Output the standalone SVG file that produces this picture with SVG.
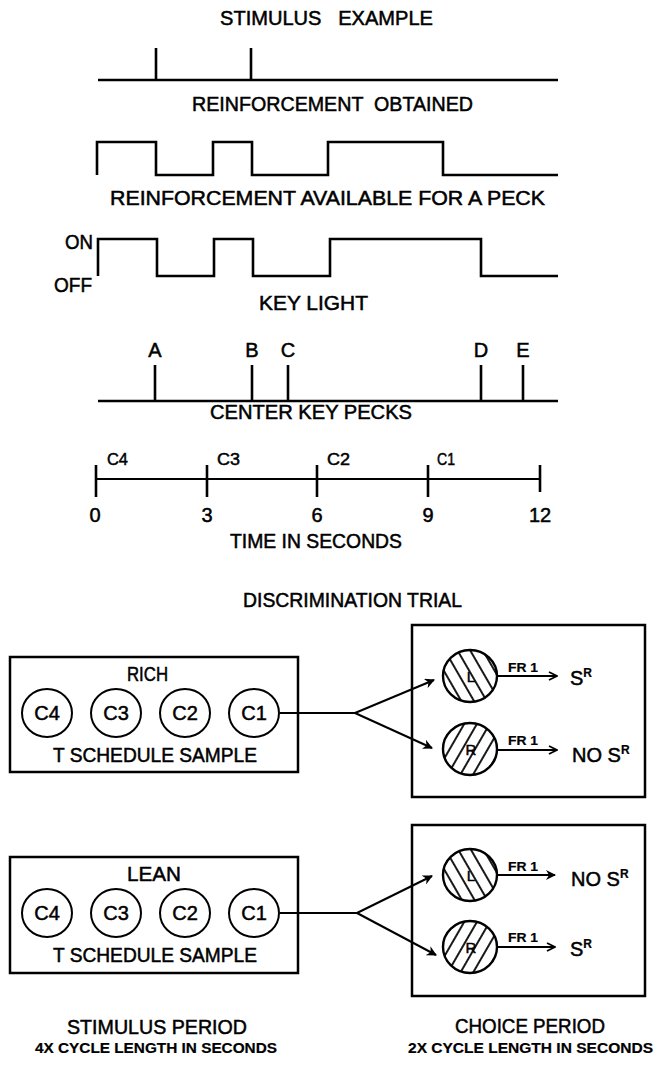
<svg xmlns="http://www.w3.org/2000/svg" width="655" height="1068" viewBox="0 0 655 1068">
<style>
text{font-family:"Liberation Sans",Arial,sans-serif;font-size:20px;fill:#000;stroke:#000;stroke-width:0.5}
.sm{font-size:14px;font-weight:bold;stroke-width:0.2}
.fr{font-size:13px;font-weight:bold;stroke-width:0.2}
.sup{font-size:12px;font-weight:bold;stroke-width:0.2}
.c{text-anchor:middle}
.sig{fill:none;stroke:#000;stroke-width:2.6;stroke-linejoin:miter}
.ax{fill:none;stroke:#000;stroke-width:2}
.box{fill:none;stroke:#000;stroke-width:2.5}
.ring{fill:#fff;stroke:#000;stroke-width:2}
.ln{fill:none;stroke:#000;stroke-width:2}
</style>
<defs>
<pattern id="hb" width="11" height="11" patternUnits="userSpaceOnUse" patternTransform="rotate(-30)">
<rect width="11" height="11" fill="#fff"/><line x1="5" y1="0" x2="5" y2="11" stroke="#000" stroke-width="1.8"/>
</pattern>
<pattern id="hf" width="11" height="11" patternUnits="userSpaceOnUse" patternTransform="rotate(30)">
<rect width="11" height="11" fill="#fff"/><line x1="5" y1="0" x2="5" y2="11" stroke="#000" stroke-width="1.8"/>
</pattern>
<marker id="open" viewBox="0 0 10 10" refX="9" refY="5" markerWidth="10" markerHeight="10" markerUnits="userSpaceOnUse" orient="auto">
<path d="M1,1 L9,5 L1,9" fill="none" stroke="#000" stroke-width="1.8"/>
</marker>
<marker id="tri" viewBox="0 0 10 10" refX="9" refY="5" markerWidth="10" markerHeight="10" markerUnits="userSpaceOnUse" orient="auto">
<path d="M0,0 L10,5 L0,10 L3,5 Z" fill="#000"/>
</marker>
</defs>

<g id="timing">
<text x="220" y="25" textLength="213" lengthAdjust="spacingAndGlyphs" xml:space="preserve">STIMULUS   EXAMPLE</text>
<path class="sig" d="M98,80 H558 M156,80 V48 M251,80 V48"/>
<text x="192" y="111" textLength="281" lengthAdjust="spacingAndGlyphs" xml:space="preserve">REINFORCEMENT  OBTAINED</text>
<path class="sig" d="M97,175 V142 H156 V175 H213 V142 H252 V175 H328 V142 H443 V175 H558"/>
<text x="110" y="205" textLength="435" lengthAdjust="spacingAndGlyphs">REINFORCEMENT AVAILABLE FOR A PECK</text>
<text x="65" y="249" textLength="28" lengthAdjust="spacingAndGlyphs">ON</text>
<text x="54" y="292" textLength="38" lengthAdjust="spacingAndGlyphs">OFF</text>
<path class="sig" d="M98,276 V239 H157 V276 H214 V239 H253 V276 H330 V239 H481 V276 H558"/>
<text x="259" y="310" textLength="109" lengthAdjust="spacingAndGlyphs">KEY LIGHT</text>
<text class="c" x="155" y="357">A</text>
<text class="c" x="252" y="357">B</text>
<text class="c" x="288" y="357">C</text>
<text class="c" x="481" y="357">D</text>
<text class="c" x="523" y="357">E</text>
<path class="sig" d="M98,401 H558 M155,401 V365 M252,401 V365 M288,401 V365 M481,401 V365 M523,401 V365"/>
<text x="210" y="419" textLength="202" lengthAdjust="spacingAndGlyphs">CENTER KEY PECKS</text>
<path class="ax" d="M96,479 H540"/>
<path class="sig" d="M96,465 V497 M207,465 V497 M317,465 V497 M428,465 V497 M540,465 V492"/>
<text x="107" y="465" style="font-size:17px" textLength="21" lengthAdjust="spacingAndGlyphs">C4</text>
<text x="217" y="465" style="font-size:17px" textLength="23" lengthAdjust="spacingAndGlyphs">C3</text>
<text x="327" y="465" style="font-size:17px" textLength="23" lengthAdjust="spacingAndGlyphs">C2</text>
<text x="437" y="465" style="font-size:17px" textLength="18" lengthAdjust="spacingAndGlyphs">C1</text>
<text class="c" x="95" y="522">0</text>
<text class="c" x="207" y="522">3</text>
<text class="c" x="317" y="522">6</text>
<text class="c" x="428" y="522">9</text>
<text class="c" x="540" y="522">12</text>
<text x="230" y="548" textLength="172" lengthAdjust="spacingAndGlyphs">TIME IN SECONDS</text>
</g>

<text x="243" y="607" textLength="219" lengthAdjust="spacingAndGlyphs">DISCRIMINATION TRIAL</text>

<g id="rich">
<rect class="box" x="10" y="657" width="288" height="115"/>
<text x="127" y="681" textLength="41" lengthAdjust="spacingAndGlyphs">RICH</text>
<ellipse class="ring" cx="47" cy="713" rx="25" ry="24"/>
<ellipse class="ring" cx="116" cy="713" rx="25" ry="24"/>
<ellipse class="ring" cx="185" cy="713" rx="25" ry="24"/>
<ellipse class="ring" cx="254" cy="713" rx="25" ry="24"/>
<text class="c" x="47" y="720">C4</text>
<text class="c" x="116" y="720">C3</text>
<text class="c" x="185" y="720">C2</text>
<text class="c" x="254" y="720">C1</text>
<text x="53" y="762" textLength="204" lengthAdjust="spacingAndGlyphs">T SCHEDULE SAMPLE</text>
</g>

<g id="rich-choice">
<rect class="box" x="412" y="625" width="233" height="172"/>
<g id="rich-left-key">
<ellipse cx="470" cy="676" rx="27" ry="26" fill="url(#hb)" stroke="#000" stroke-width="2.4"/>
<text class="c" x="471" y="682" style="font-size:15px">L</text>
</g>
<g id="rich-right-key">
<ellipse cx="470" cy="749" rx="27" ry="26" fill="url(#hf)" stroke="#000" stroke-width="2.4"/>
<text class="c" x="471" y="755" style="font-size:15px">R</text>
</g>
<text class="fr" x="508" y="672" textLength="30" lengthAdjust="spacingAndGlyphs">FR 1</text>
<text class="fr" x="508" y="745" textLength="30" lengthAdjust="spacingAndGlyphs">FR 1</text>
<text x="570" y="685">S<tspan class="sup" dy="-8">R</tspan></text>
<text x="572" y="762">NO S<tspan class="sup" dy="-8">R</tspan></text>
</g>

<g id="lean">
<rect class="box" x="10" y="857" width="288" height="116"/>
<text x="127" y="881" textLength="54" lengthAdjust="spacingAndGlyphs">LEAN</text>
<ellipse class="ring" cx="47" cy="913" rx="25" ry="24"/>
<ellipse class="ring" cx="116" cy="913" rx="25" ry="24"/>
<ellipse class="ring" cx="185" cy="913" rx="25" ry="24"/>
<ellipse class="ring" cx="254" cy="913" rx="25" ry="24"/>
<text class="c" x="47" y="920">C4</text>
<text class="c" x="116" y="920">C3</text>
<text class="c" x="185" y="920">C2</text>
<text class="c" x="254" y="920">C1</text>
<text x="53" y="962" textLength="204" lengthAdjust="spacingAndGlyphs">T SCHEDULE SAMPLE</text>
</g>

<g id="lean-choice">
<rect class="box" x="412" y="825" width="233" height="171"/>
<g id="lean-left-key">
<ellipse cx="470" cy="875" rx="27" ry="26" fill="url(#hb)" stroke="#000" stroke-width="2.4"/>
<text class="c" x="471" y="881" style="font-size:15px">L</text>
</g>
<g id="lean-right-key">
<ellipse cx="470" cy="947" rx="27" ry="26" fill="url(#hf)" stroke="#000" stroke-width="2.4"/>
<text class="c" x="471" y="953" style="font-size:15px">R</text>
</g>
<text class="fr" x="508" y="871" textLength="30" lengthAdjust="spacingAndGlyphs">FR 1</text>
<text class="fr" x="508" y="942" textLength="30" lengthAdjust="spacingAndGlyphs">FR 1</text>
<text x="571" y="886">NO S<tspan class="sup" dy="-8">R</tspan></text>
<text x="570" y="956">S<tspan class="sup" dy="-8">R</tspan></text>
</g>

<g id="connectors">
<path class="ln" d="M280,713 H355"/>
<path class="ln" d="M355,713 L434,680" marker-end="url(#tri)"/>
<path class="ln" d="M355,713 L432,748" marker-end="url(#tri)"/>
<path class="ln" d="M497,676 H557" marker-end="url(#open)"/>
<path class="ln" d="M497,750 H557" marker-end="url(#open)"/>
<path class="ln" d="M280,913 H357"/>
<path class="ln" d="M357,913 L432,876" marker-end="url(#tri)"/>
<path class="ln" d="M357,913 L436,955" marker-end="url(#tri)"/>
<path class="ln" d="M497,875 H555" marker-end="url(#tri)"/>
<path class="ln" d="M497,947 H555" marker-end="url(#open)"/>
</g>

<g id="captions">
<text x="67" y="1034" textLength="180" lengthAdjust="spacingAndGlyphs">STIMULUS PERIOD</text>
<text class="sm" x="35" y="1053" textLength="242" lengthAdjust="spacingAndGlyphs">4X CYCLE LENGTH IN SECONDS</text>
<text x="455" y="1033" textLength="150" lengthAdjust="spacingAndGlyphs">CHOICE PERIOD</text>
<text class="sm" x="408" y="1053" textLength="245" lengthAdjust="spacingAndGlyphs">2X CYCLE LENGTH IN SECONDS</text>
</g>
</svg>
